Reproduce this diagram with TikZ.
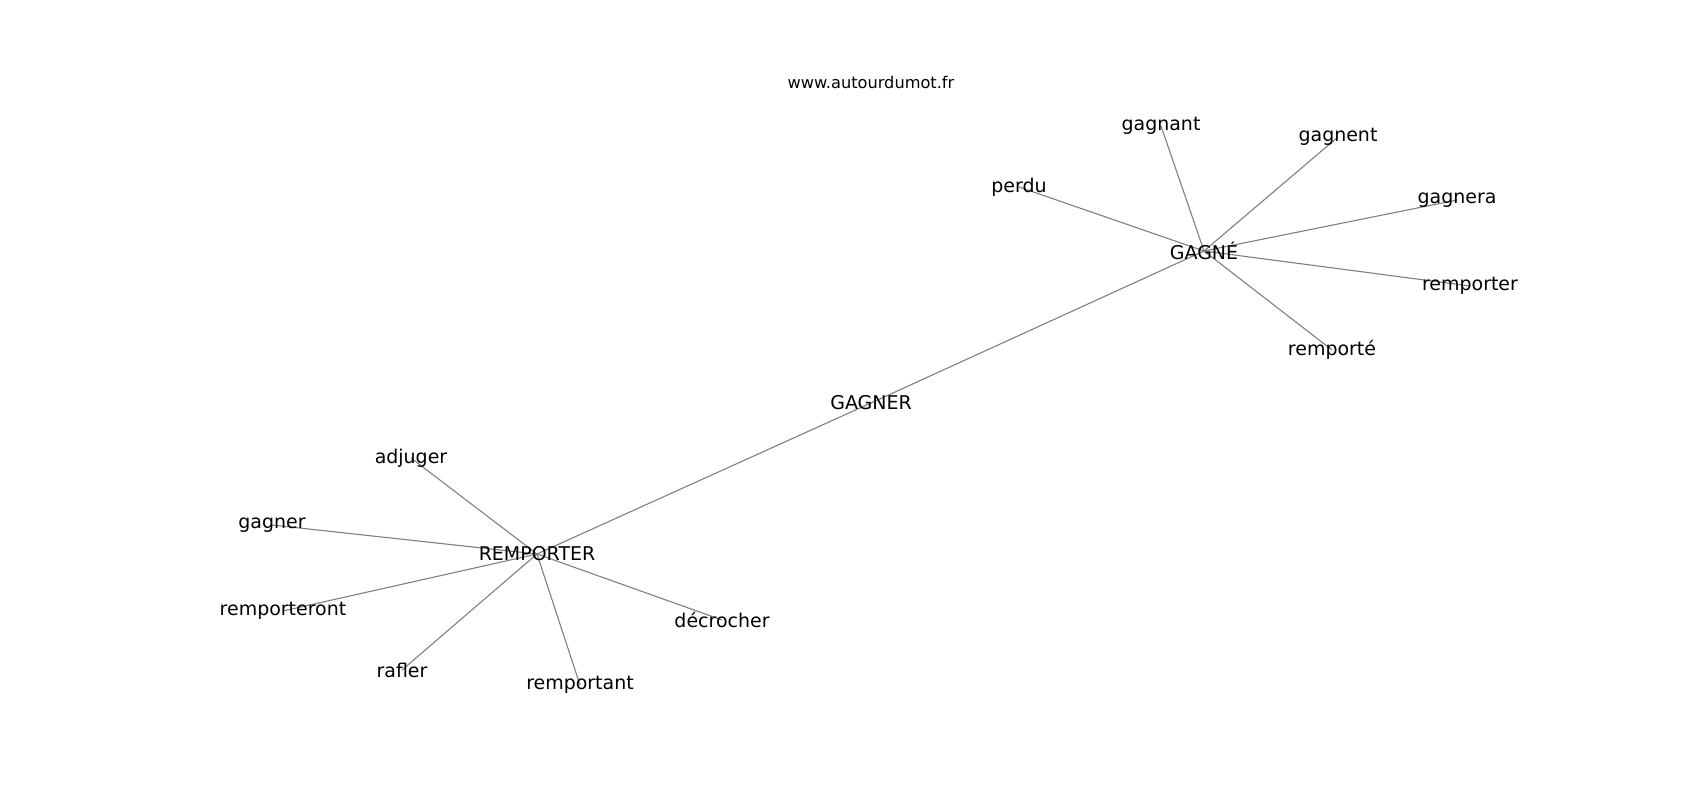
\documentclass[tikz,border=0pt]{standalone}
\usepackage{fontspec}
\setmainfont{DejaVu Sans}
\usepackage{tikz}
\usetikzlibrary{backgrounds}

\begin{document}
\begin{tikzpicture}[x=0.01in,y=-0.01in,
		word/.style={inner sep=0pt, font=\fontsize{13.7}{16}\selectfont},
		link/.style={gray, line width=0.8pt}]

			\useasboundingbox (0,0) rectangle (1700,800);

			\node [inner sep=0pt, font=\fontsize{11.7}{14}\selectfont] (site) at (871,82) {www.autourdumot.fr};

			\node [word] (gagnerbig) at (871,403) {GAGNER};
			\node [word] (gagne) at (1204,251) {GAGNÉ};
			\node [word] (remporterbig) at (537,554) {REMPORTER};

			\node [word] (gagnant) at (1161,126) {gagnant};
			\node [word] (gagnent) at (1338,137) {gagnent};
			\node [word] (perdu) at (1019,187) {perdu};
			\node [word] (gagnera) at (1457,200) {gagnera};
			\node [word] (remporter) at (1470,286) {remporter};
			\node [word] (remporte) at (1332,350) {remporté};

			\node [word] (adjuger) at (411,458) {adjuger};
			\node [word] (gagner) at (272,525) {gagner};
			\node [word] (remporteront) at (283,611) {remporteront};
			\node [word] (rafler) at (402,670) {rafler};
			\node [word] (remportant) at (580,685) {remportant};
			\node [word] (decrocher) at (722,620) {décrocher};

			\begin{scope}[on background layer]
				\foreach \a/\b in {gagnerbig/gagne, gagnerbig/remporterbig,
					gagne/gagnant, gagne/gagnent, gagne/perdu, gagne/gagnera, gagne/remporter, gagne/remporte,
					remporterbig/adjuger, remporterbig/gagner, remporterbig/remporteront,
					remporterbig/rafler, remporterbig/remportant, remporterbig/decrocher} {
					\draw [link] (\a.center) -- (\b.center);
				}
			\end{scope}
		\end{tikzpicture}
\end{document}
